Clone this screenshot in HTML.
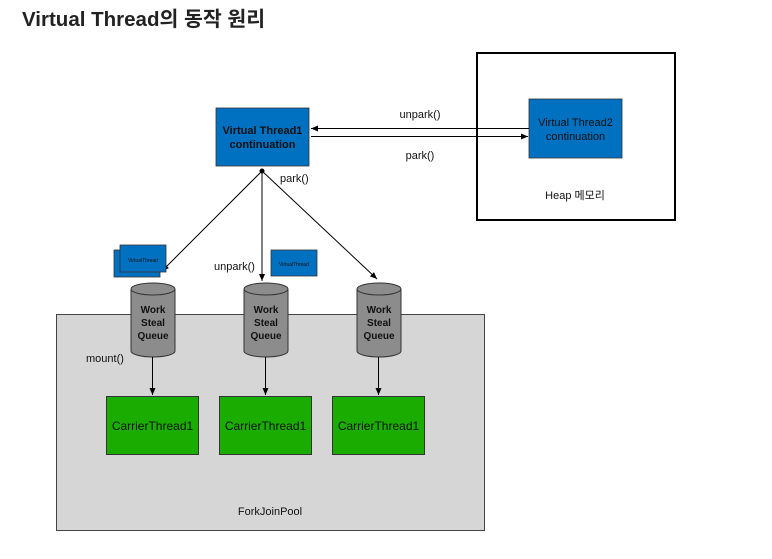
<!DOCTYPE html>
<html><head><meta charset="utf-8"><style>
html,body{margin:0;padding:0;background:#fff;}
svg{display:block;font-family:"Liberation Sans","Noto Sans CJK KR",sans-serif;}
</style></head><body>
<svg width="772" height="559" viewBox="0 0 772 559" xmlns="http://www.w3.org/2000/svg">
<defs>
<marker id="a" markerWidth="8" markerHeight="8" refX="7" refY="4" orient="auto" markerUnits="userSpaceOnUse"><path d="M0,1 L7,4 L0,7 z" fill="#000"/></marker>
</defs>
<text x="22" y="26" font-size="20.5" font-weight="bold" fill="#222" font-family="'Liberation Sans','Noto Sans CJK KR',sans-serif">Virtual Thread의 동작 원리</text>

<!-- heap -->
<rect x="477" y="53" width="198" height="167" fill="#fff" stroke="#000" stroke-width="2"/>
<text x="575" y="199" font-size="11" text-anchor="middle" fill="#111">Heap 메모리</text>
<rect x="529" y="99" width="93" height="59" fill="#0070c0" stroke="#333" stroke-width="0.8"/>
<text x="575.5" y="126" font-size="11" text-anchor="middle" fill="#111">Virtual Thread2</text>
<text x="575.5" y="140" font-size="11" text-anchor="middle" fill="#111">continuation</text>

<!-- pool -->
<rect x="56.5" y="314.5" width="428" height="216" fill="#d6d6d6" stroke="#444" stroke-width="1"/>
<text x="270" y="515" font-size="11" text-anchor="middle" fill="#111">ForkJoinPool</text>

<!-- VT1 -->
<rect x="216" y="108" width="93" height="58" fill="#0070c0" stroke="#333" stroke-width="0.8"/>
<text x="262.5" y="134" font-size="11" font-weight="bold" text-anchor="middle" fill="#111">Virtual Thread1</text>
<text x="262.5" y="148" font-size="11" font-weight="bold" text-anchor="middle" fill="#111">continuation</text>

<!-- horizontal arrows -->
<line x1="529" y1="128.5" x2="311" y2="128.5" stroke="#000" stroke-width="1" marker-end="url(#a)"/>
<line x1="311" y1="136.5" x2="528" y2="136.5" stroke="#000" stroke-width="1" marker-end="url(#a)"/>
<text x="420" y="118" font-size="11" text-anchor="middle" fill="#111">unpark()</text>
<text x="420" y="159" font-size="11" text-anchor="middle" fill="#111">park()</text>

<!-- diagonals -->
<circle cx="262" cy="171" r="2.5" fill="#000"/>
<line x1="262" y1="171" x2="162" y2="271" stroke="#000" stroke-width="1" marker-end="url(#a)"/>
<line x1="262" y1="171" x2="262" y2="281" stroke="#000" stroke-width="1" marker-end="url(#a)"/>
<line x1="262" y1="171" x2="377" y2="279" stroke="#000" stroke-width="1" marker-end="url(#a)"/>
<text x="280" y="182" font-size="11" fill="#111">park()</text>
<text x="214" y="270" font-size="11" fill="#111">unpark()</text>

<!-- small VT boxes -->
<rect x="114" y="250" width="46" height="27" fill="#0070c0" stroke="#333" stroke-width="0.8"/>
<rect x="120" y="245" width="46" height="27" fill="#0070c0" stroke="#333" stroke-width="0.8"/>
<text x="143" y="262" font-size="5" text-anchor="middle" fill="#111">VirtualThread</text>
<rect x="271" y="250" width="46" height="26" fill="#0070c0" stroke="#333" stroke-width="0.8"/>
<text x="294" y="266" font-size="5" text-anchor="middle" fill="#111">VirtualThread</text>

<!-- cylinders -->
<g font-size="10" font-weight="bold" text-anchor="middle" fill="#111">
<g transform="translate(153,0)">
<path d="M-22,289 L-22,351 A22,6 0 0 0 22,351 L22,289" fill="#8c8c8c" stroke="#333"/>
<ellipse cx="0" cy="289" rx="22" ry="6" fill="#8c8c8c" stroke="#333"/>
<text x="0" y="313">Work</text><text x="0" y="326">Steal</text><text x="0" y="339">Queue</text>
</g>
<g transform="translate(266,0)">
<path d="M-22,289 L-22,351 A22,6 0 0 0 22,351 L22,289" fill="#8c8c8c" stroke="#333"/>
<ellipse cx="0" cy="289" rx="22" ry="6" fill="#8c8c8c" stroke="#333"/>
<text x="0" y="313">Work</text><text x="0" y="326">Steal</text><text x="0" y="339">Queue</text>
</g>
<g transform="translate(379,0)">
<path d="M-22,289 L-22,351 A22,6 0 0 0 22,351 L22,289" fill="#8c8c8c" stroke="#333"/>
<ellipse cx="0" cy="289" rx="22" ry="6" fill="#8c8c8c" stroke="#333"/>
<text x="0" y="313">Work</text><text x="0" y="326">Steal</text><text x="0" y="339">Queue</text>
</g>
</g>
<text x="86" y="362" font-size="11" fill="#111">mount()</text>

<!-- vertical arrows -->
<line x1="152.5" y1="357" x2="152.5" y2="395" stroke="#000" marker-end="url(#a)"/>
<line x1="265.5" y1="357" x2="265.5" y2="395" stroke="#000" marker-end="url(#a)"/>
<line x1="378.5" y1="357" x2="378.5" y2="395" stroke="#000" marker-end="url(#a)"/>

<!-- carrier threads -->
<g font-size="12" text-anchor="middle" fill="#111">
<rect x="106.5" y="396.5" width="92" height="58" fill="#1aad00" stroke="#333"/>
<text x="152.5" y="430">CarrierThread1</text>
<rect x="219.5" y="396.5" width="92" height="58" fill="#1aad00" stroke="#333"/>
<text x="265.5" y="430">CarrierThread1</text>
<rect x="332.5" y="396.5" width="92" height="58" fill="#1aad00" stroke="#333"/>
<text x="378.5" y="430">CarrierThread1</text>
</g>
</svg>
</body></html>
